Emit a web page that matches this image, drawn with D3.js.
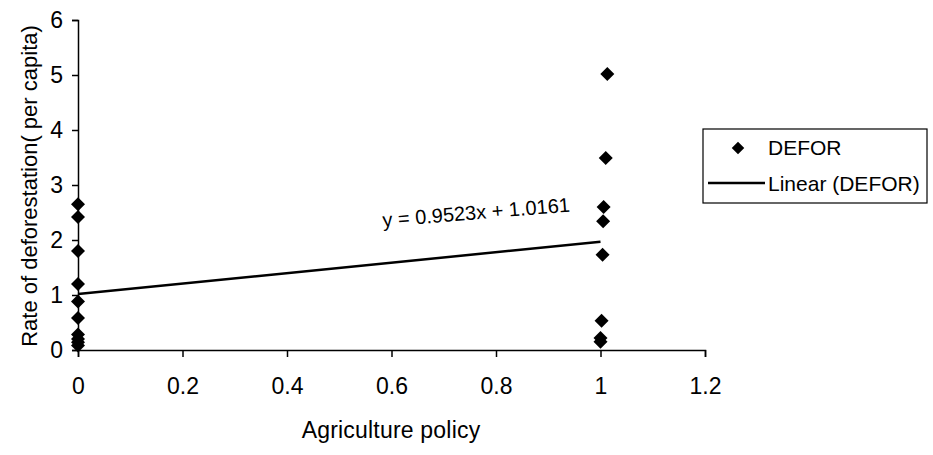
<!DOCTYPE html>
<html>
<head>
<meta charset="utf-8">
<script src="https://cdn.jsdelivr.net/npm/d3@7"></script>
<style>
  body { margin: 0; background: #fff; }
  text { font-family: "Liberation Sans", Arial, sans-serif; fill: #000; }
</style>
</head>
<body>
<div id="chart"></div>
<script>
// data
var policyZero = [0, 0, 0, 0, 0, 0, 0, 0, 0, 0];
var deforZero = [2.65, 2.42, 1.8, 1.2, 0.88, 0.58, 0.28, 0.2, 0.14, 0.08];
var policyOne = [1.013, 1.01, 1.006, 1.005, 1.004, 1.002, 1.0, 1.0];
var deforOne = [5.02, 3.49, 2.6, 2.34, 1.73, 0.53, 0.22, 0.15];

var slope = 0.9523, intercept = 1.0161;
var trendX = [0, 1];

var xTicks = [0, 0.2, 0.4, 0.6, 0.8, 1, 1.2];
var yTicks = [0, 1, 2, 3, 4, 5, 6];

var width = 933, height = 455;

var svg = d3.select("#chart").append("svg")
    .attr("width", width)
    .attr("height", height);

var x = d3.scaleLinear().domain([0, 1.2]).range([78, 705]);
var y = d3.scaleLinear().domain([0, 6]).range([350, 20]);

var points = [];
policyZero.forEach(function(p, i) { points.push({x: p, y: deforZero[i]}); });
policyOne.forEach(function(p, i) { points.push({x: p, y: deforOne[i]}); });

// axes
var xAxis = svg.append("g")
    .attr("transform", "translate(0," + y(0) + ")")
    .call(d3.axisBottom(x).tickValues(xTicks).tickSize(7).tickPadding(21)
        .tickFormat(function(d) { return String(d); }));

var yAxis = svg.append("g")
    .attr("transform", "translate(" + x(0) + ",0)")
    .call(d3.axisLeft(y).tickValues(yTicks).tickSize(6).tickPadding(9)
        .tickFormat(function(d) { return String(d); }));

[xAxis, yAxis].forEach(function(g) {
    g.attr("font-size", null).attr("font-family", null);
    g.selectAll("path, line").attr("stroke", "#000").attr("stroke-width", 1.5);
    g.selectAll("text").style("font-size", "23px").attr("fill", "#000");
});

// trend line
var line = d3.line()
    .x(function(d) { return x(d); })
    .y(function(d) { return y(slope * d + intercept); });

svg.append("path")
    .datum(trendX)
    .attr("d", line)
    .attr("fill", "none")
    .attr("stroke", "#000")
    .attr("stroke-width", 2.5);

// points
var diamond = d3.symbol().type(d3.symbolDiamond2 || d3.symbolDiamond).size(125);

svg.selectAll(".pt")
    .data(points)
    .enter().append("path")
    .attr("class", "pt")
    .attr("d", diamond)
    .attr("transform", function(d) { return "translate(" + x(d.x) + "," + y(d.y) + ")"; })
    .attr("fill", "#000");

// equation
svg.append("text")
    .attr("transform", "translate(383,227) rotate(-4.7)")
    .style("font-size", "20px")
    .text("y = 0.9523x + 1.0161");

// axis titles
svg.append("text")
    .attr("x", 391)
    .attr("y", 438)
    .attr("text-anchor", "middle")
    .style("font-size", "23px")
    .style("letter-spacing", "0.2px")
    .text("Agriculture policy");

svg.append("text")
    .attr("transform", "translate(37,186) rotate(-90)")
    .attr("text-anchor", "middle")
    .style("font-size", "22px")
    .text("Rate of deforestation( per capita)");

// legend
var legend = svg.append("g");
legend.append("rect")
    .attr("x", 703).attr("y", 129)
    .attr("width", 224).attr("height", 74)
    .attr("fill", "none")
    .attr("stroke", "#000")
    .attr("stroke-width", 1.2);

legend.append("path")
    .attr("d", d3.symbol().type(d3.symbolDiamond2 || d3.symbolDiamond).size(100))
    .attr("transform", "translate(738,148)")
    .attr("fill", "#000");
legend.append("text")
    .attr("x", 768).attr("y", 155)
    .style("font-size", "21px")
    .text("DEFOR");

legend.append("line")
    .attr("x1", 708).attr("x2", 765)
    .attr("y1", 183).attr("y2", 183)
    .attr("stroke", "#000")
    .attr("stroke-width", 2.5);
legend.append("text")
    .attr("x", 768).attr("y", 191)
    .style("font-size", "21px")
    .text("Linear (DEFOR)");
</script>
</body>
</html>
